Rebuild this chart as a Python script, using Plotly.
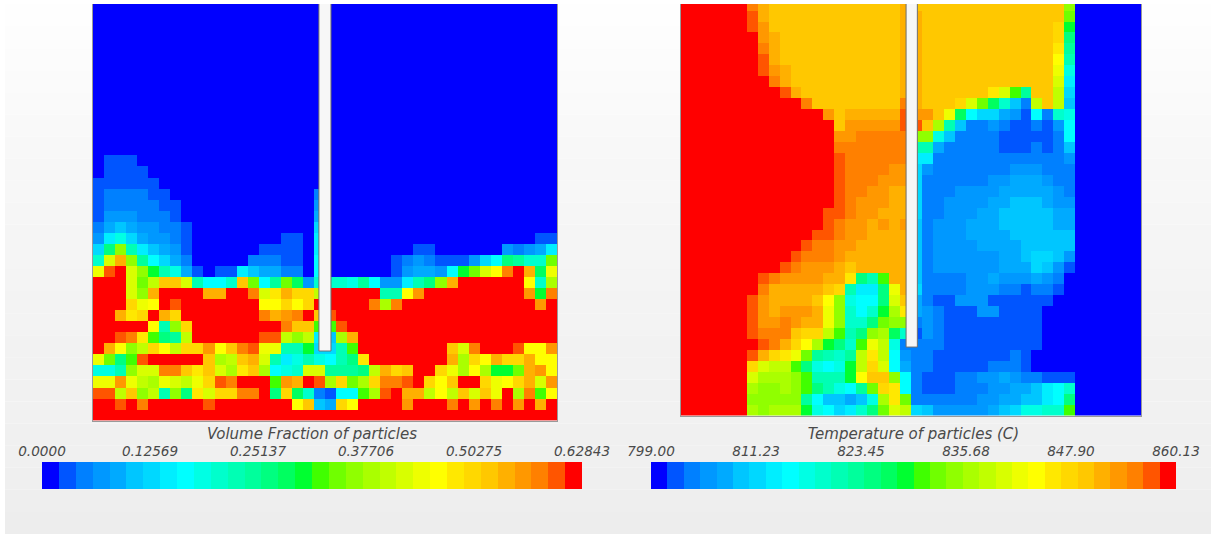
import plotly.graph_objects as go

W, H = 1211, 534
LEVEL_CODES = "0123456789abcdefghijklmnopqrstuv"

PALETTE = ["#0000ff", "#0055ff", "#0080ff", "#0098ff", "#00aaff", "#00c6ff", "#00d8ff", "#00eeff",
           "#00ffff", "#00ffe4", "#00ffcc", "#00ffb4", "#00ff9c", "#00ff80", "#00ff60", "#00ff30",
           "#40ff00", "#70ff00", "#90ff00", "#aaff00", "#c0ff00", "#d8ff00", "#eeff00", "#ffff00",
           "#ffe800", "#ffd800", "#ffc800", "#ffb000", "#ff9800", "#ff8000", "#ff5500", "#ff0000"]

# Cell levels (0-31, one base-32 character per column), top row first; short rows end in level 0.
VOLUME_ROWS = [
    "", "", "", "", "", "", "", "", "", "", "", "", "", "",
    "0111",
    "01111",
    "111111",
    "122221100000000000002",
    "122222110000000000003",
    "133322210000000000004",
    "245433221000000000006",
    "379643321000000001107000000000000000000011",
    "6dib754310000001111070000000011000000" "32347",
    "alric8642000002221108000000123211136" "8dcaah",
    "muvlifb94101175442208" "000000134438fhlntvrem",
    "vvvlhkqqlb88aqh8che3a" "aa9c8337bdirvvvvvvnaj",
    "vvvlirvvvvrrvvtlorppk" "vvvvvbbnsvvvvvvvvvsft",
    "vvvpmnvuvvvvvvvnnpnpv" "vvvvtjtvvvvvvvvvvvvsv",
    "vvropvrpvvvvvvvtrstvq" "uvvvvvvvvvvvvvvvvvvvv",
    "vvvvvnbipvvvvvvvvtqqg" "guvvvvvvvvvvvvvvvvvvv",
    "vvutogdckvvvvvvuukik7" "5jrvvvvvvvvvvvvvvvvvv",
    "vrnikpnkppsnqtummbbf6" "6bgvvvvvvvvqltvvvunns",
    "mhdguvvvvvqjkqrlb79b9" "8bdovvvvvvvrjpnrpprnn",
    "99billttqoqljoqj89all" "cccdkrpqvvpmjnjffhrsn",
    "mmsmkjmlkmputvvvgsrvu" "jphjpttuvpnqvvpmnprls",
    "uukqikbidolppttvdpea2" "188gjuvrrknkqlqmvjtgn",
    "vvuvtvvvvvuvvvvvvvnq5" "4pnvvvvsvvvtvsvtvsvrv",
    "vvvvvvvvvvvvvvvvvvvvv" "vvvvvvvvvvvvvvvvvvvvv",
]

TEMPERATURE_ROWS = [
    "vvvvvvtrqqqqqqqqqqqqr" "qqqqqqqqqqqqqqi",
    "vvvvvvurqqqqqqqqqqqqr" "rqqqqqqqqqqqqqh",
    "vvvvvvusqqqqqqqqqqqqr" "rqqqqqqqqqqqqpf",
    "vvvvvvvsrqqqqqqqqqqqr" "rqqqqqqqqqqqqpd",
    "vvvvvvvtrqqqqqqqqqqqr" "rqqqqqqqqqqqqoc",
    "vvvvvvvurqqqqqqqqqqqr" "rqqqqqqqqqqqqnb",
    "vvvvvvvusrqqqqqqqqqqr" "rqqqqqqqqqqqqm9",
    "vvvvvvvvtrqqqqqqqqqqr" "rqqqqqqqqqqqql7",
    "vvvvvvvvvurqqqqqqqqqr" "rqqqqqqolgcqqk6",
    "vvvvvvvvvvvtqqqqqqqqt" "rqqqplhea52kqk5",
    "vvvvvvvvvvvvvsqrrrrru" "ssqme86643182a9",
    "vvvvvvvvvvvvvvqsssssu" "uqjb52232112138",
    "vvvvvvvvvvvvvvssttttt" "ii9522221111128",
    "vvvvvvvvvvvvvvttttttt" "bb4222221112125",
    "vvvvvvvvvvvvvvutttttt" "772222222222223",
    "vvvvvvvvvvvvvvuttttss" "632222222333222",
    "vvvvvvvvvvvvvvutttsss" "622222233444322",
    "vvvvvvvvvvvvvvuttssrr" "622233334444432",
    "vvvvvvvvvvvvvvutsssrr" "622333344555433",
    "vvvvvvvvvvvvvuutssrrr" "622333445555544",
    "vvvvvvvvvvvvvutssrsrs" "523334445555544",
    "vvvvvvvvvvvvuutssrrrr" "523334444555555",
    "vvvvvvvvvvvuttssrrrrr" "523333444455555",
    "vvvvvvvvvvutttsrrrrrr" "523333334456653",
    "vvvvvvvvvutsssrqrrrrr" "523333334446531",
    "vvvvvvvutssssrrodbgrr" "522223343334320",
    "vvvvvvvtrrrrrqpb77dmr" "622223332212210",
    "vvvvvvusrrrrqni988dlq" "421133311111100",
    "vvvvvvusrsssrmia8afjo" "432111331111000",
    "vvvvvvusstsrrmiaadhii" "232111111111000",
    "vvvvvvutttqppkgbdijea" "132111111111000",
    "vvvvvvvutrpnjfdagmk92" "222111111111000",
    "vvvvvvurpomhcbackok83" "221111111210000",
    "vvvvvvplkkgd989fkpl84" "221111122210000",
    "vvvvvvljjjigbbbfnqqi8" "211122334322111",
    "vvvvvvjiijigdb98chpo8" "21112223344578a",
    "vvvvvviiiiic855459joh" "22222233445578d",
    "vvvvvvjijjjf9867adhlk" "653333345699aag",
]

VOLUME_TICKS = [0.0, 0.12569, 0.25137, 0.37706, 0.50275, 0.62843]
VOLUME_TICK_TEXT = ["0.0000", "0.12569", "0.25137", "0.37706", "0.50275", "0.62843"]
TEMPERATURE_TICKS = [799.00, 811.23, 823.45, 835.68, 847.90, 860.13]
TEMPERATURE_TICK_TEXT = ["799.00", "811.23", "823.45", "835.68", "847.90", "860.13"]
BACKGROUND_GRAYS = [254, 253, 252, 251, 250, 249, 248, 247, 247, 246, 245, 245,
                    244, 243, 243, 242, 242, 241, 241, 240, 240, 239, 238, 237]

N_COLS = 42
TEXT_COLOR = "#4a4a4a"
FONT = "DejaVu Sans"


def decode(rows, vmin, vmax):
    out = []
    for row in reversed(rows):
        row = row.ljust(N_COLS, "0")[:N_COLS]
        out.append([vmin + (LEVEL_CODES.index(ch) + 0.5) / 32 * (vmax - vmin) for ch in row])
    return out


def level_centres(vmin, vmax):
    return [vmin + (i + 0.5) / 32 * (vmax - vmin) for i in range(32)]


colorscale = []
for i, c in enumerate(PALETTE):
    colorscale += [[i / 32, c], [(i + 1) / 32, c]]

fig = go.Figure()
panels = [(VOLUME_ROWS, VOLUME_TICKS, "x", "y"), (TEMPERATURE_ROWS, TEMPERATURE_TICKS, "x2", "y2")]
for rows, ticks, xa, ya in panels:
    fig.add_trace(go.Heatmap(z=decode(rows, ticks[0], ticks[-1]), zmin=ticks[0], zmax=ticks[-1],
                             colorscale=colorscale, showscale=False, xaxis=xa, yaxis=ya))
bars = [(VOLUME_TICKS, "x3", "y3"), (TEMPERATURE_TICKS, "x4", "y4")]
for ticks, xa, ya in bars:
    centres = level_centres(ticks[0], ticks[-1])
    fig.add_trace(go.Heatmap(x=centres, y=[0], z=[centres], zmin=ticks[0], zmax=ticks[-1],
                             colorscale=colorscale, showscale=False, xaxis=xa, yaxis=ya))

panel_x = dict(showgrid=False, zeroline=False, showticklabels=False, ticks="",
               showline=True, linecolor="#9a9a9a", linewidth=1, mirror=False, fixedrange=True)
panel_y = dict(panel_x, mirror=True)
hidden_y = dict(visible=False, range=[-0.5, 0.5], fixedrange=True)
tick_font = dict(family=FONT, size=13.6, color=TEXT_COLOR, style="italic")
title_font = dict(family=FONT, size=15, color=TEXT_COLOR, style="italic")


def bar_axis(ticks, text, title, domain, anchor):
    return dict(domain=domain, range=[ticks[0], ticks[-1]], anchor=anchor, side="top",
                tickvals=ticks, ticktext=text, tickfont=tick_font, ticks="", ticklen=0,
                ticklabelstandoff=2,
                showgrid=False, zeroline=False, showline=False, fixedrange=True,
                automargin=False, tickangle=0,
                title=dict(text=title, font=title_font, standoff=0))


fig.update_layout(
    width=W, height=H, margin=dict(l=0, r=0, t=0, b=0),
    paper_bgcolor="#ffffff", plot_bgcolor="#ffffff", showlegend=False,
    xaxis=dict(domain=[93 / W, 557 / W], range=[-0.5, 41.5], anchor="y", **panel_x),
    yaxis=dict(domain=[(H - 420.5) / H, (H - 4) / H], range=[-0.5, 37.2], anchor="x", **panel_y),
    xaxis2=dict(domain=[681 / W, 1141 / W], range=[-0.5, 41.5], anchor="y2", **panel_x),
    yaxis2=dict(domain=[(H - 415.7) / H, (H - 4) / H], range=[-0.5, 37.1], anchor="x2", **panel_y),
    xaxis3=bar_axis(VOLUME_TICKS, VOLUME_TICK_TEXT, "Volume Fraction of particles", [42 / W, 582 / W], "y3"),
    yaxis3=dict(domain=[(H - 489) / H, (H - 462) / H], anchor="x3", **hidden_y),
    xaxis4=bar_axis(TEMPERATURE_TICKS, TEMPERATURE_TICK_TEXT, "Temperature of particles (C)", [651 / W, 1176 / W], "y4"),
    yaxis4=dict(domain=[(H - 489) / H, (H - 462) / H], anchor="x4", **hidden_y),
)

# page background bands (below the plots)
shapes = []
n = len(BACKGROUND_GRAYS)
for i, g in enumerate(BACKGROUND_GRAYS):
    shapes.append(dict(type="rect", xref="paper", yref="paper", layer="below",
                       x0=5 / W, x1=1, y1=1 - (4 + i * 530 / n) / H, y0=1 - (4 + (i + 1) * 530 / n) / H,
                       fillcolor=f"rgb({g},{g},{g})", line=dict(width=0)))
# the white pipes, in cell units of each panel
for xr, yr, a, b, bottom in (("x", "y", 19.95, 21.04, 5.79), ("x2", "y2", 20.05, 21.08, 5.77)):
    shapes.append(dict(type="rect", xref=xr, yref=yr, x0=a, x1=b, y0=bottom, y1=40,
                       fillcolor="#f7f7f7", line=dict(color="#6f6f6f", width=1), layer="above"))
fig.update_layout(shapes=shapes)

fig.write_html("out.html", config=dict(displayModeBar=False),
               post_script="document.body.style.margin='0';document.body.style.overflow='hidden';")
